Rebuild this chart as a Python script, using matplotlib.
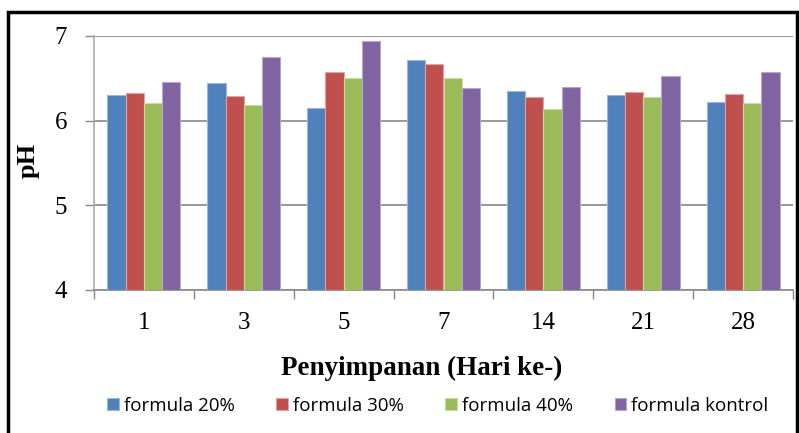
import matplotlib
matplotlib.use("Agg")
import matplotlib.pyplot as plt
import numpy as np
from matplotlib.patches import Rectangle

days = ["1", "3", "5", "7", "14", "21", "28"]
series_names = ["formula 20%", "formula 30%", "formula 40%", "formula kontrol"]
f20 = [6.30, 6.45, 6.15, 6.72, 6.35, 6.30, 6.22]
f30 = [6.33, 6.29, 6.57, 6.67, 6.28, 6.34, 6.32]
f40 = [6.21, 6.18, 6.50, 6.50, 6.14, 6.28, 6.21]
fkontrol = [6.46, 6.75, 6.94, 6.38, 6.40, 6.53, 6.57]

COLORS = ["#4F81BD", "#C0504D", "#9BBB59", "#8064A2"]
EDGES = ["#9DB7DA", "#DFA3A1", "#C8DBA6", "#B7A6CC"]
SERIF = "Liberation Serif"

fig = plt.figure(figsize=(7.99, 4.33), dpi=100)
ax = fig.add_axes([94 / 799, 1 - 290 / 433, (793 - 94) / 799, (290 - 36) / 433])

x = np.arange(len(days))
W = 0.183
for i, (vals, c, e, name) in enumerate(zip([f20, f30, f40, fkontrol], COLORS, EDGES, series_names)):
    ax.bar(x + (i - 1.5) * W, np.array(vals) - 4, W, bottom=4, color=c,
           edgecolor=e, linewidth=0.8, label=name, zorder=3)

ax.set_xlim(-0.5, len(days) - 0.5)
ax.set_ylim(4, 7)
ax.set_yticks([4, 5, 6, 7])
ax.set_xticks(x)
ax.set_xticklabels(days)
ax.set_xticks(np.arange(-0.5, len(days)), minor=True)
ax.tick_params(axis="x", which="major", length=0, pad=16)
ax.tick_params(axis="x", which="minor", length=6.5, color="#888888", width=1)
ax.tick_params(axis="y", length=6.5, color="#888888", width=1, pad=13)
for lab in ax.get_xticklabels() + ax.get_yticklabels():
    lab.set_fontfamily(SERIF)
    lab.set_fontsize(18)

ax.grid(axis="y", color="#888888", linewidth=1.2, zorder=0)
for s in ["top", "right"]:
    ax.spines[s].set_visible(False)
ax.spines["left"].set_color("#AAAAAA")
ax.spines["left"].set_linewidth(1.2)
ax.spines["bottom"].set_color("#888888")
ax.spines["bottom"].set_linewidth(1.2)

fig.text(28 / 799, 1 - 160 / 433, "pH", rotation=90, ha="center", va="center",
         fontfamily=SERIF, fontsize=19, fontweight="bold")
fig.text(422 / 799, 1 - 368 / 433, "Penyimpanan (Hari ke-)", ha="center", va="center",
         fontfamily=SERIF, fontsize=19.5, fontweight="bold")

fig.legend(loc="center", bbox_to_anchor=(438 / 799, 1 - 406 / 433), ncol=4,
           frameon=False, prop={"family": "Open Sans", "size": 13.5},
           handlelength=0.6, handleheight=0.6, handletextpad=0.3, columnspacing=2.2)

fig.patches.append(Rectangle((8 / 799, -0.05), (797 - 8) / 799, 1 - 12 / 433 + 0.05,
                             transform=fig.transFigure, fill=False,
                             edgecolor="black", linewidth=2.5))

fig.savefig("out.png", dpi=100)
